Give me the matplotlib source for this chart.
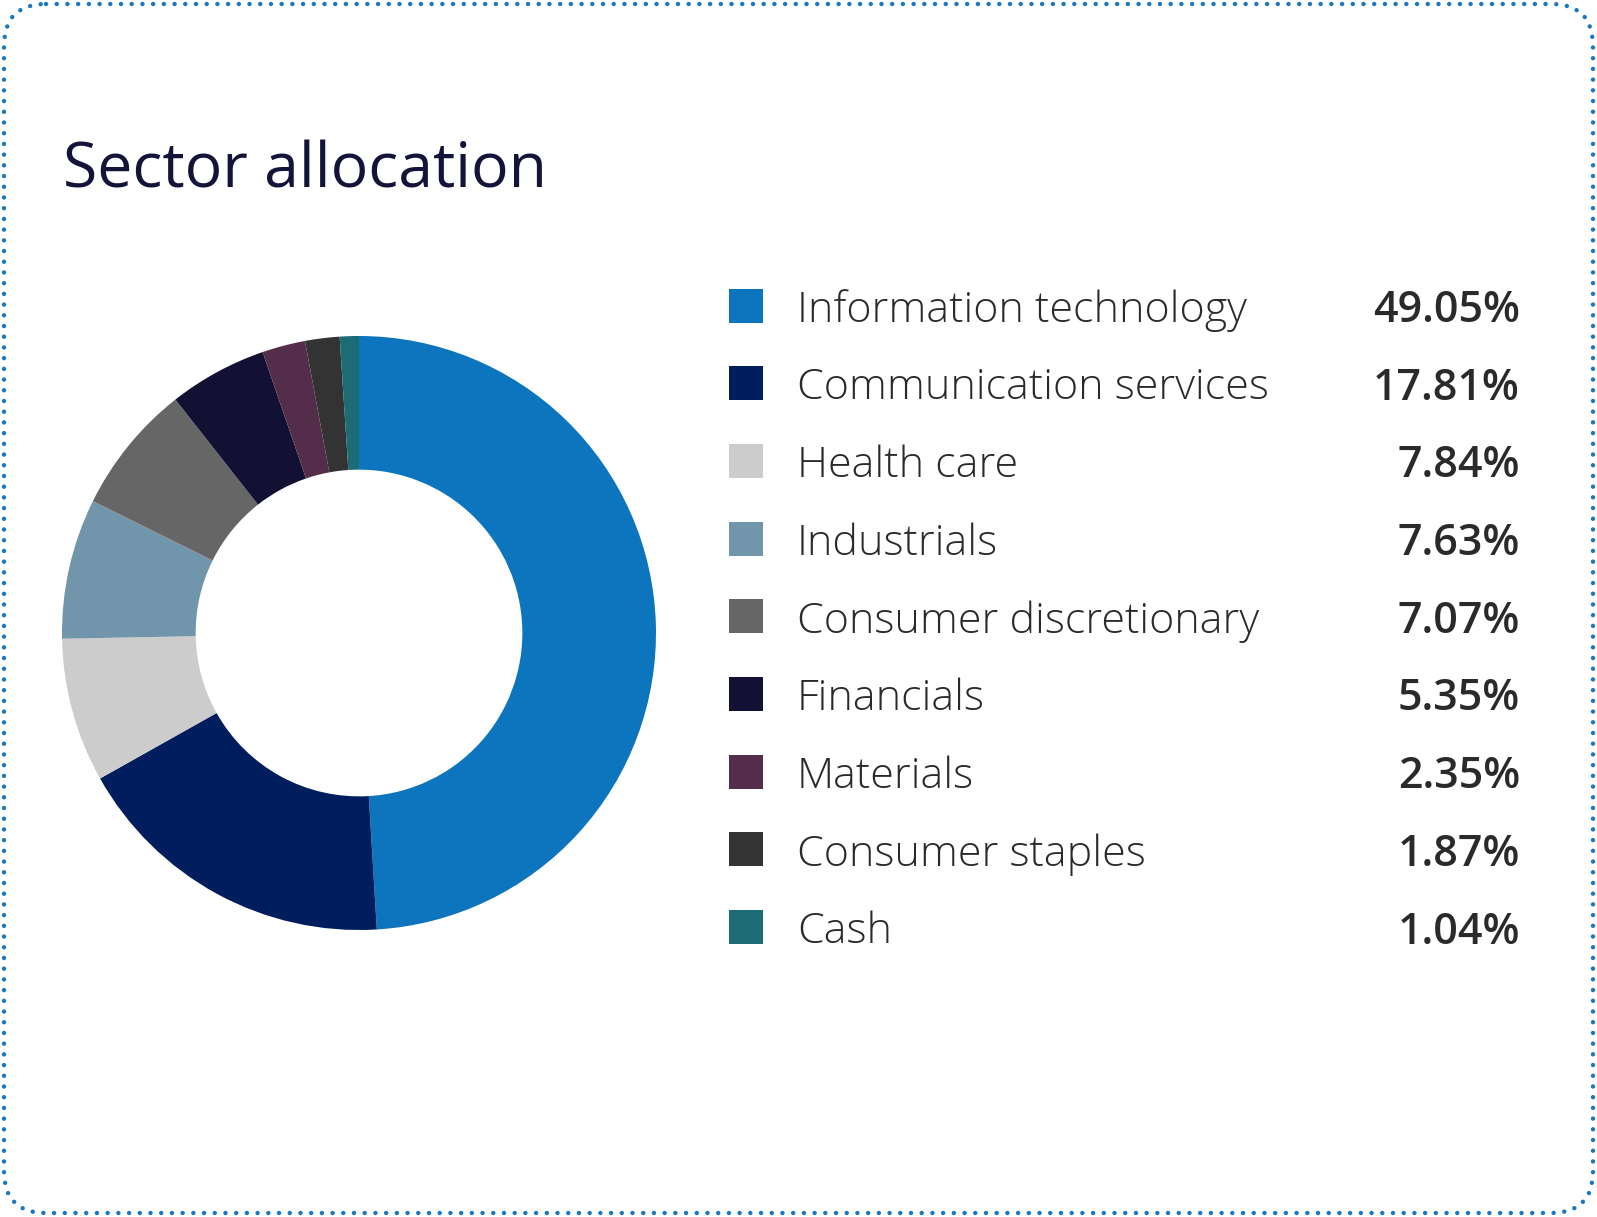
import matplotlib
matplotlib.use("Agg")
import matplotlib.pyplot as plt
from matplotlib.patches import FancyBboxPatch, Rectangle

sectors = ["Information technology", "Communication services", "Health care",
           "Industrials", "Consumer discretionary", "Financials", "Materials",
           "Consumer staples", "Cash"]
weights = [49.05, 17.81, 7.84, 7.63, 7.07, 5.35, 2.35, 1.87, 1.04]
colors = ["#0d75bd", "#001e5e", "#cccccc", "#7196ab", "#666666",
          "#121133", "#532d4a", "#333333", "#1d6b75"]
title = "Sector allocation"

W, H = 1597, 1217
plt.rcParams["font.family"] = ["Open Sans", "DejaVu Sans"]
fig = plt.figure(figsize=(W / 100, H / 100), dpi=100)

# overlay in pixel coordinates for the frame, title and legend
ov = fig.add_axes([0, 0, 1, 1])
ov.set_xlim(0, W); ov.set_ylim(H, 0); ov.axis("off")
frame = FancyBboxPatch((4, 4), W - 8, H - 8, boxstyle="round,pad=0,rounding_size=42",
                       fill=False, edgecolor="#1a78c2", linewidth=3.2,
                       linestyle=(0, (0.01, 2.4)), capstyle="round")
ov.add_patch(frame)
ov.text(63, 188, title, fontsize=45, color="#14143a", va="baseline", ha="left")

# donut
cx, cy, r = 359, 633, 297
ax = fig.add_axes([(cx - r) / W, (H - cy - r) / H, 2 * r / W, 2 * r / H])
ax.pie(weights, colors=colors, startangle=90, counterclock=False, radius=1,
       wedgeprops=dict(width=0.45, linewidth=0))
ax.set_xlim(-1, 1); ax.set_ylim(-1, 1); ax.set_aspect("equal"); ax.axis("off")

# legend rows
y0, dy, sq = 305.5, 77.7, 34
for i, (name, w, c) in enumerate(zip(sectors, weights, colors)):
    y = y0 + i * dy
    ov.add_patch(Rectangle((729, y - sq / 2), sq, sq, facecolor=c, edgecolor="none"))
    ov.text(797, y, name, fontsize=31, fontweight="light", color="#2a2a2a",
            va="center_baseline", ha="left")
    ov.text(1520, y, f"{w:.2f}%", fontsize=31, fontweight="semibold", color="#2a2a2a",
            va="center_baseline", ha="right")

fig.savefig("out.png", dpi=100, facecolor="white")
